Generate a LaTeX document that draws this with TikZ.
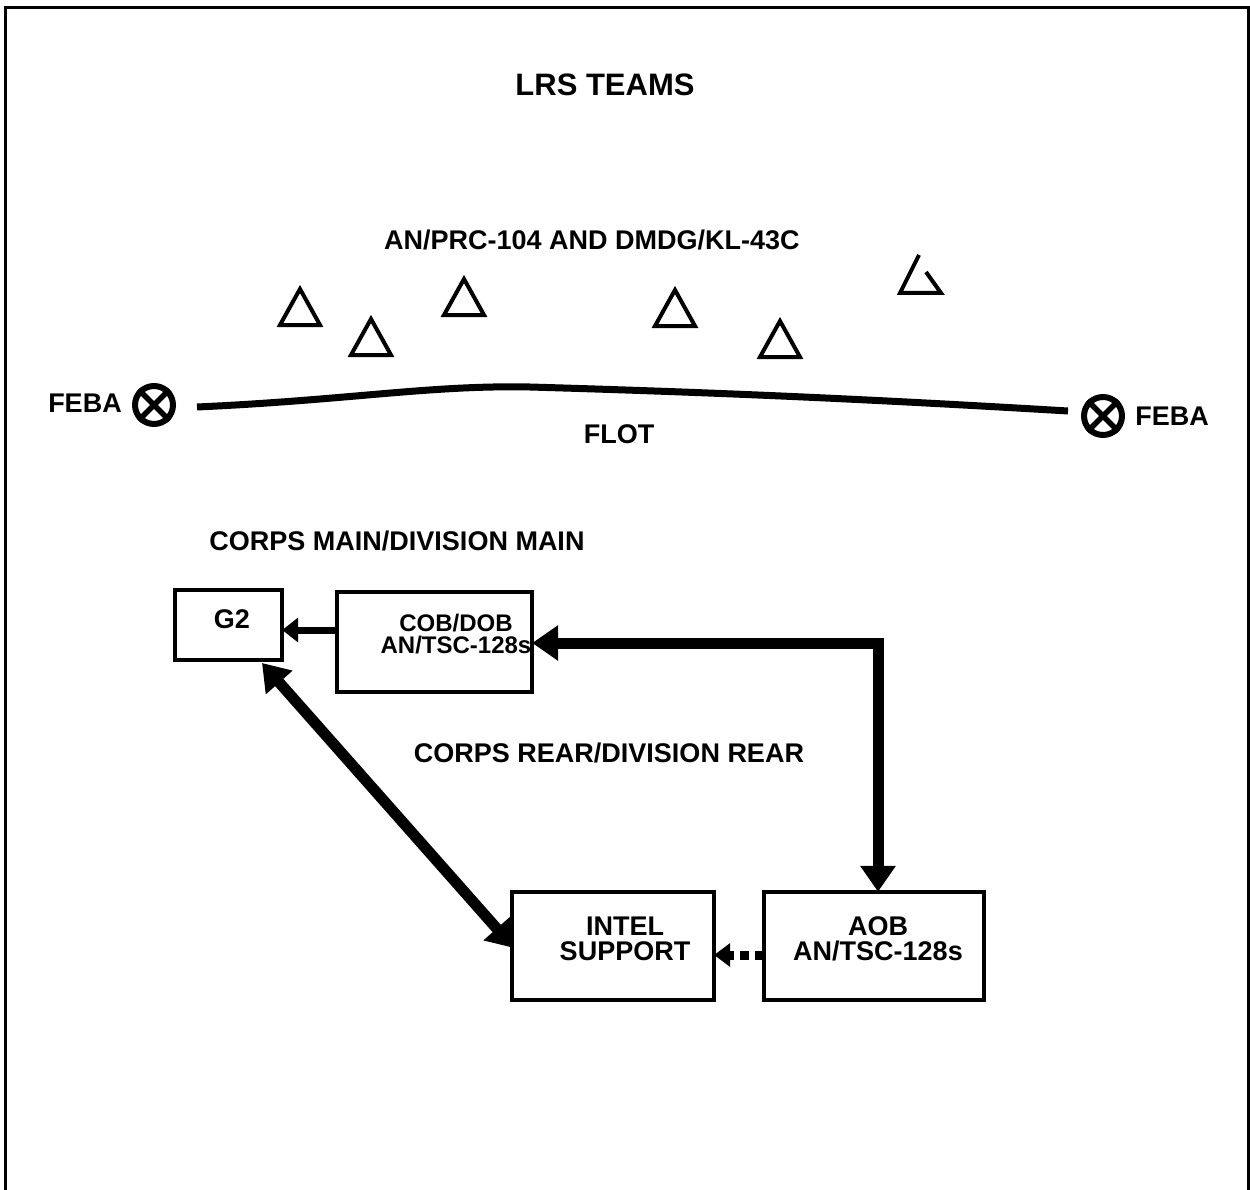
\documentclass[tikz,border=0pt]{standalone}
\usepackage{fontspec}
\setmainfont{Liberation Sans}
\usetikzlibrary{arrows.meta}
\begin{document}
\begin{tikzpicture}[x=1pt,y=-1pt,
  lbl/.style={font=\fontsize{27}{29}\selectfont\bfseries, inner sep=0pt},
  boxlbl/.style={font=\fontsize{27}{25}\selectfont\bfseries, align=center, inner sep=0pt},
  blk/.style={draw, line width=3.5pt},
  tri/.style={line width=4pt, line join=miter},
  thick arrow/.style={line width=11pt, -{Triangle[length=26pt,width=34pt]}},
  thick darrow/.style={line width=11pt, {Triangle[length=26pt,width=34pt]}-{Triangle[length=26pt,width=34pt]}},
  mid arrow/.style={line width=7pt, -{Triangle[length=16pt,width=24pt]}},
  feba/.style={circle, draw, line width=6pt, minimum size=38pt, inner sep=0pt}
]
\useasboundingbox (0,0) rectangle (1250,1190);
% frame
\draw[line width=3pt] (5,1190) -- (5,8) -- (1248,8) -- (1248,1190);

% title texts
\node[lbl, font=\fontsize{31}{33}\selectfont\bfseries] (title) at (605,85) {LRS TEAMS};
\node[lbl] (radio) at (592,240) {AN/PRC-104 AND DMDG/KL-43C};

% triangles
\foreach \n/\cx/\cy in {t1/300/308, t2/371/338, t3/464/298, t4/675/309, t5/780/340}{
  \draw[tri] (\cx,\cy-19) -- (\cx+20,\cy+17) -- (\cx-20,\cy+17) -- cycle;
}
% broken triangle
\draw[tri] (926,272) -- (941,293) -- (900,293) -- (919,255);

% FEBA / FLOT
\node[lbl] (febaL) at (85,403) {FEBA};
\node[feba] (cL) at (154,405) {};
\draw[line width=5.5pt] (cL.45) -- (cL.225) (cL.135) -- (cL.315);
\node[feba] (cR) at (1103,416) {};
\draw[line width=5.5pt] (cR.45) -- (cR.225) (cR.135) -- (cR.315);
\node[lbl] (febaR) at (1172,416) {FEBA};
\coordinate (flotA) at (197,407);
\coordinate (flotB) at (1068,411);
\draw[line width=7pt] (flotA) .. controls (350,400) and (430,385) .. (530,387)
  .. controls (700,392) and (850,398) .. (flotB);
\node[lbl] (flot) at (619,434) {FLOT};

\node[lbl] (cmain) at (397,541) {CORPS MAIN/DIVISION MAIN};
\node[lbl] (crear) at (609,753) {CORPS REAR/DIVISION REAR};

% boxes
\draw[blk] (175,590) rectangle (282,660);
\node (g2) at (228.5,625) [minimum width=107pt, minimum height=70pt, inner sep=0pt] {};
\node[boxlbl] (g2t) at (232,619) {G2};

\draw[blk] (337,592) rectangle (532,692);
\node (cob) at (434.5,642) [minimum width=195pt, minimum height=100pt, inner sep=0pt] {};
\node[boxlbl, font=\fontsize{24}{22}\selectfont\bfseries] (cobt) at (456,634) {COB/DOB\\AN/TSC-128s};

\draw[blk] (512,892) rectangle (714,1000);
\node (intel) at (613,946) [minimum width=202pt, minimum height=108pt, inner sep=0pt] {};
\node[boxlbl] (intelt) at (625,939) {INTEL\\SUPPORT};

\draw[blk] (764,892) rectangle (984,1000);
\node (aob) at (874,946) [minimum width=220pt, minimum height=108pt, inner sep=0pt] {};
\node[boxlbl] (aobt) at (878,939) {AOB\\AN/TSC-128s};

% connectors
\draw[mid arrow] (cob.west |- 0,630) -- (g2.east |- 0,630);
\draw[thick darrow] (cob.east |- 0,643) -- (878,643) -- (aob.north -| 878,0);
\draw[thick darrow] (262,663) -- (514,948);
\draw[line width=9pt, dash pattern=on 9pt off 6pt] (aob.west |- 0,955) -- (730,955);
\draw[line width=0pt, -{Triangle[length=16pt,width=24pt]}, fill] (731,955) -- (intel.east |- 0,955);
\end{tikzpicture}
\end{document}
